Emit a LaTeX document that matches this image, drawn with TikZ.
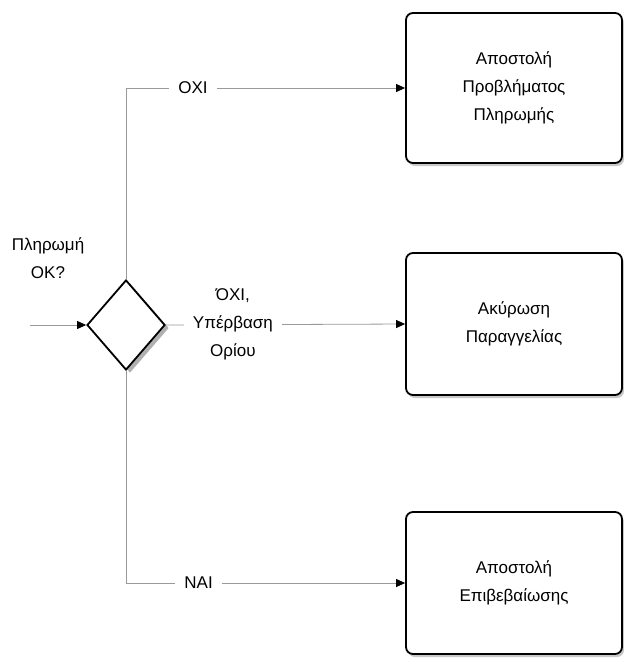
\documentclass[tikz,border=0pt]{standalone}
\usepackage{fontspec}
\setmainfont{Liberation Sans}
\usepackage{xcolor}
\definecolor{flowline}{HTML}{9A9A9A}
\definecolor{shade}{HTML}{B0B0B0}
\usepackage{tikz}
\usetikzlibrary{arrows.meta,positioning,shapes.geometric,shadows}

\begin{document}
\begin{tikzpicture}[
  x=1pt, y=-1pt,
  font=\fontsize{17}{28}\selectfont,
  task/.style={draw=black, line width=1.8pt, fill=white, rounded corners=7pt,
    minimum width=216pt, minimum height=142pt, align=center,
    drop shadow={shadow xshift=2pt, shadow yshift=-3pt, fill=shade, opacity=0.7}},
  gate/.style={diamond, draw=black, line width=1.8pt, fill=white, inner sep=0pt,
    minimum width=78pt, minimum height=90pt, aspect=0.87,
    drop shadow={shadow xshift=4pt, shadow yshift=-3pt, fill=shade, opacity=1}},
  flow/.style={-{Triangle[length=9pt, width=8pt, black]}, flowline, line width=0.8pt},
  lbl/.style={fill=white, text=black, inner xsep=9pt, inner ysep=3pt, align=center}
]
\useasboundingbox (0,0) rectangle (624,665);
\node[gate] (check) at (126,325) {};
\node[task, minimum height=150pt] (issue) at (514,88) {Αποστολή\\Προβλήματος\\Πληρωμής};
\node[task] (cancel) at (514,324) {Ακύρωση\\Παραγγελίας};
\node[task] (confirm) at (514,583) {Αποστολή\\Επιβεβαίωσης};
\node[align=center] (ask) at (48,258) {Πληρωμή\\ΟΚ?};
\coordinate (start) at (30,325);
\draw[flow] (start) -- (check.west);
\draw[flow] (check.north) |- node[lbl, pos=0.62]{ΟΧΙ} (issue.west);
\draw[flow] (check.east) -- node[lbl, pos=0.28]{ΌΧΙ,\\Υπέρβαση\\Ορίου} (cancel.west);
\draw[flow] (check.south) |- node[lbl, pos=0.63]{ΝΑΙ} (confirm.west);
\end{tikzpicture}
\end{document}
